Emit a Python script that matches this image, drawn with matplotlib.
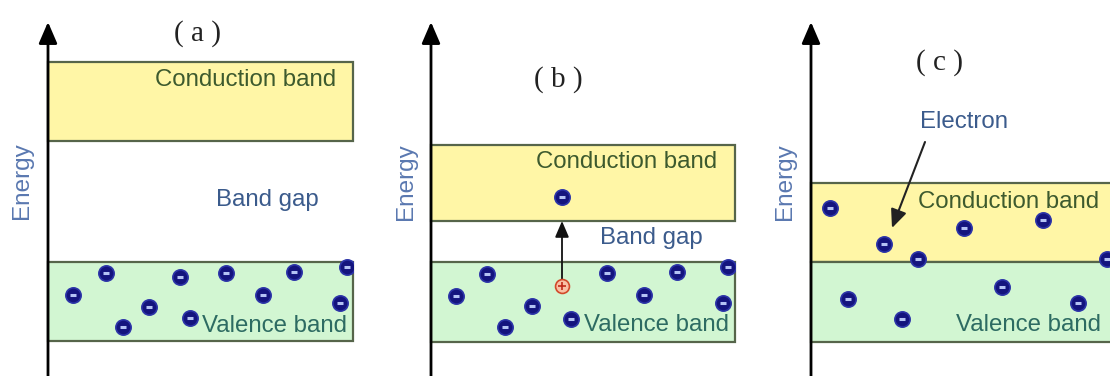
import matplotlib
matplotlib.use("Agg")
import matplotlib.pyplot as plt
from matplotlib.patches import Rectangle

# 能带示意图：(a) 绝缘体  (b) 半导体  (c) 导体
# 坐标直接用画布像素（y 轴向下）

panel_tags = ["( a )", "( b )", "( c )"]
tag_x = [197, 558, 939]
tag_y = [34, 80, 63]

axis_x = [48, 431, 811]
band_right = [353, 735, 1116]

cb_top = [62, 145, 183]
cb_bottom = [141, 221, 262]
vb_top = [262, 262, 262]
vb_bottom = [341, 342, 342]

# 文字位置
cb_label_x = [246, 627, 1009]
cb_label_y = [80, 162, 202]
vb_label_x = [275, 657, 1029]
vb_label_y = [326, 325, 325]
gap_label_x = [267, 651]
gap_label_y = [200, 238]
energy_x = [22, 406, 785]
energy_y = [181, 182, 182]

# 电子位置
elec_a_x = [106, 73, 123, 149, 180, 190, 226, 263, 294, 347, 340]
elec_a_y = [273, 295, 327, 307, 277, 318, 273, 295, 272, 267, 303]
elec_b_x = [487, 456, 505, 532, 571, 607, 644, 677, 728, 723, 562]
elec_b_y = [274, 296, 327, 306, 319, 273, 295, 272, 267, 303, 197]
elec_c_x = [830, 884, 918, 964, 1043, 1107, 848, 902, 1002, 1078]
elec_c_y = [208, 244, 259, 228, 220, 259, 299, 319, 287, 303]

# 空穴（b 图）
hole_x = [562]
hole_y = [286]

EDGE = "#56654a"
YELLOW = "#fff6a6"
GREEN = "#d2f6d2"

fig = plt.figure(figsize=(11.1, 3.76), dpi=100)
ax = fig.add_axes([0, 0, 1, 1])
ax.set_xlim(0, 1110)
ax.set_ylim(376, 0)
ax.axis("off")

sans = "Liberation Sans"
serif = "Liberation Serif"

for i in range(3):
    x0 = axis_x[i]
    w = band_right[i] - x0
    ax.add_patch(Rectangle((x0, cb_top[i]), w, cb_bottom[i] - cb_top[i],
                           facecolor=YELLOW, edgecolor=EDGE, lw=1.6, zorder=1))
    ax.add_patch(Rectangle((x0, vb_top[i]), w, vb_bottom[i] - vb_top[i],
                           facecolor=GREEN, edgecolor=EDGE, lw=1.6, zorder=1))

    # 能量轴
    ax.annotate("", xy=(x0, 22), xytext=(x0, 380),
                arrowprops=dict(arrowstyle="-|>,head_width=0.28,head_length=0.65",
                                mutation_scale=20, lw=2, color="black",
                                shrinkA=0, shrinkB=0), zorder=5)

    ax.text(tag_x[i], tag_y[i], panel_tags[i], family=serif, fontsize=21,
            ha="center", va="center", color="#222222")
    ax.text(cb_label_x[i], cb_label_y[i], "Conduction band", family=sans,
            fontsize=17.3, ha="center", va="center", color="#3d5a2e", zorder=3)
    ax.text(vb_label_x[i], vb_label_y[i], "Valence band", family=sans,
            fontsize=17.3, ha="center", va="center", color="#2d6b62", zorder=3)
    ax.text(energy_x[i], energy_y[i], "Energy", family=sans, fontsize=17.5,
            rotation=90, ha="center", va="center", color="#5a78b0")

for gx, gy in zip(gap_label_x, gap_label_y):
    ax.text(gx, gy, "Band gap", family=sans, fontsize=17.3,
            ha="center", va="center", color="#3b5b8c")

# (b) 电子跃迁箭头
ax.annotate("", xy=(hole_x[0], 221), xytext=(hole_x[0], hole_y[0] - 6),
            arrowprops=dict(arrowstyle="-|>,head_width=0.3,head_length=0.7",
                            mutation_scale=14, lw=1.3, color="#111111",
                            shrinkA=0, shrinkB=0), zorder=4)

# (c) Electron 标注
ax.text(964, 122, "Electron", family=sans, fontsize=17.3,
        ha="center", va="center", color="#3b5b8c")
ax.annotate("", xy=(892, 228), xytext=(925, 142),
            arrowprops=dict(arrowstyle="-|>,head_width=0.35,head_length=0.8",
                            mutation_scale=14, lw=1.5, color="#222222",
                            shrinkA=0, shrinkB=0), zorder=4)

elec_sets = [(elec_a_x, elec_a_y), (elec_b_x, elec_b_y), (elec_c_x, elec_c_y)]
for i, (ex, ey) in enumerate(elec_sets):
    clip = Rectangle((axis_x[i], 0), band_right[i] - axis_x[i], 376,
                     transform=ax.transData)
    dots = ax.plot(ex, ey, "o", ms=11, mfc="#14147e", mec="#2c34a8",
                   mew=1.2, zorder=6)[0]
    bars = ax.plot(ex, ey, "_", ms=5, mew=2.2, color="#b4c2f4", zorder=7)[0]
    dots.set_clip_path(clip)
    bars.set_clip_path(clip)

ax.plot(hole_x, hole_y, "o", ms=10, mfc="#f9c0a4", mec="#d2492a", mew=1.2, zorder=6)
ax.plot(hole_x, hole_y, "+", ms=6, mew=1.2, color="#c02a18", zorder=7)

fig.savefig("out.png", dpi=100, facecolor="white")
